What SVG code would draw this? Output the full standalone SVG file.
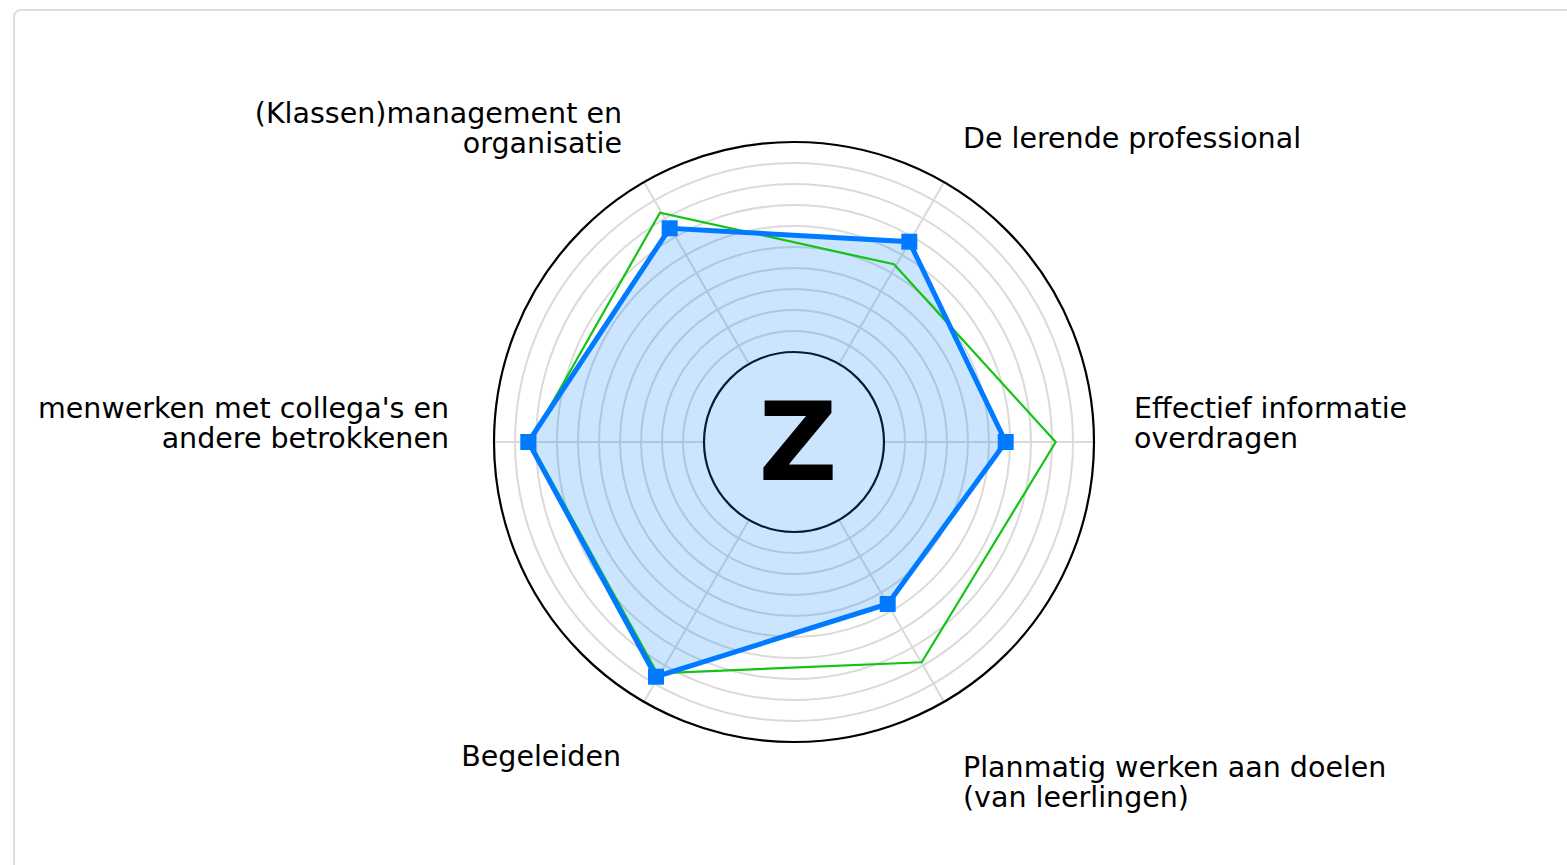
<svg xmlns="http://www.w3.org/2000/svg" width="1567" height="865" viewBox="0 0 1567 865">
<style>
.lbl{font-family:"DejaVu Sans",sans-serif;font-size:28.5px;fill:#000}
.ring{fill:none;stroke:#dadada;stroke-width:2}
.spoke{stroke:#dadada;stroke-width:2}
.mk{fill:#007bff}
</style>
<rect width="1567" height="865" fill="#fff"/>
<rect x="14" y="10" width="1600" height="900" rx="7" fill="#fff" stroke="#dedede" stroke-width="2"/>
<g id="grid">
<circle class="ring" cx="794" cy="442" r="111"/>
<circle class="ring" cx="794" cy="442" r="132"/>
<circle class="ring" cx="794" cy="442" r="153"/>
<circle class="ring" cx="794" cy="442" r="174"/>
<circle class="ring" cx="794" cy="442" r="195"/>
<circle class="ring" cx="794" cy="442" r="216"/>
<circle class="ring" cx="794" cy="442" r="237"/>
<circle class="ring" cx="794" cy="442" r="258"/>
<circle class="ring" cx="794" cy="442" r="279"/>
<line class="spoke" x1="884" y1="442" x2="1094" y2="442"/>
<line class="spoke" x1="839" y1="364.06" x2="944" y2="182.19"/>
<line class="spoke" x1="749" y1="364.06" x2="644" y2="182.19"/>
<line class="spoke" x1="704" y1="442" x2="494" y2="442"/>
<line class="spoke" x1="749" y1="519.94" x2="644" y2="701.81"/>
<line class="spoke" x1="839" y1="519.94" x2="944" y2="701.81"/>
<circle cx="794" cy="442" r="300" fill="none" stroke="#000" stroke-width="2.2"/>
</g>
<g id="series">
<polygon points="1005.7,442 909.3,241.7 669.7,228.3 528.3,442 656,676.7 887.7,604" fill="rgba(0,123,255,0.2)" stroke="none"/>
<polygon id="green" points="1055.7,442 894,264.3 660,212.7 530,442 657.3,673.3 921.7,662.3" fill="none" stroke="#14c414" stroke-width="2.2" stroke-linejoin="miter"/>
<polygon id="blue" points="1005.7,442 909.3,241.7 669.7,228.3 528.3,442 656,676.7 887.7,604" fill="none" stroke="#007bff" stroke-width="5" stroke-linejoin="miter"/>
<rect class="mk" x="997.7" y="434" width="16" height="16"/>
<rect class="mk" x="901.3" y="233.7" width="16" height="16"/>
<rect class="mk" x="661.7" y="220.3" width="16" height="16"/>
<rect class="mk" x="520.3" y="434" width="16" height="16"/>
<rect class="mk" x="648" y="668.7" width="16" height="16"/>
<rect class="mk" x="879.7" y="596" width="16" height="16"/>
</g>
<g id="center">
<circle cx="794" cy="442" r="90" fill="none" stroke="#0a1a3a" stroke-width="2.2"/>
<text x="798" y="480" text-anchor="middle" font-family="DejaVu Sans,sans-serif" font-weight="bold" font-size="109" fill="#000">Z</text>
</g>
<g id="labels">
<text class="lbl" x="622" y="123" text-anchor="end">(Klassen)management en</text>
<text class="lbl" x="622" y="152.5" text-anchor="end">organisatie</text>
<text class="lbl" x="963" y="148">De lerende professional</text>
<text class="lbl" x="1134" y="418">Effectief informatie</text>
<text class="lbl" x="1134" y="447.5">overdragen</text>
<text class="lbl" x="449" y="418" text-anchor="end">menwerken met collega's en</text>
<text class="lbl" x="449" y="447.5" text-anchor="end">andere betrokkenen</text>
<text class="lbl" x="621" y="766" text-anchor="end">Begeleiden</text>
<text class="lbl" x="963" y="777">Planmatig werken aan doelen</text>
<text class="lbl" x="963" y="806.5">(van leerlingen)</text>
</g>
</svg>
